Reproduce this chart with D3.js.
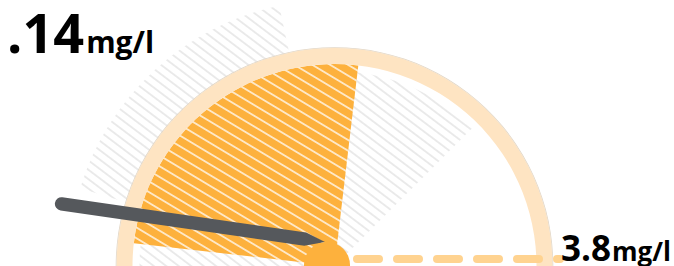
<!DOCTYPE html>
<html>
<head>
<meta charset="utf-8">
<script src="https://cdn.jsdelivr.net/npm/d3@7/dist/d3.min.js"></script>
<style>
  html, body { margin: 0; padding: 0; background: #fff; }
  svg { display: block; }
</style>
</head>
<body>
<svg id="chart" width="674" height="266"></svg>
<script>
// ---- data ----
const gaugeDomain = [0, 3.8];        // min / max of the gauge (mg/l)
const bandRange = [0, 2.0];          // highlighted orange band
const needleValue = [0.14];          // current reading
const unitLabel = ["mg/l"];
const maxLabel = [3.8];

// ---- layout ----
const W = 674, H = 266;
const cx = 334.5, cy = 266;          // gauge centre
const ringOuter = 218, ringInner = 202;
const hubX = 327, hubY = 265, hubR = 23;
const deg = Math.PI / 180;

const svg = d3.select("#chart");
const defs = svg.append("defs");

// stripe pattern inside the orange band
const pOrange = defs.append("pattern")
  .attr("id", "stripesOrange").attr("patternUnits", "userSpaceOnUse")
  .attr("width", 20).attr("height", 9.2)
  .attr("patternTransform", "rotate(31)");
pOrange.append("rect").attr("width", 20).attr("height", 9.2).attr("fill", "#FDB13D");
pOrange.append("line").attr("x1", 0).attr("x2", 20).attr("y1", 4.6).attr("y2", 4.6)
  .attr("stroke", "#FFF1DC").attr("stroke-width", 1.6);

// pale grey hatch
const pGrey = defs.append("pattern")
  .attr("id", "stripesGrey").attr("patternUnits", "userSpaceOnUse")
  .attr("width", 20).attr("height", 7.5)
  .attr("patternTransform", "rotate(37)");
pGrey.append("line").attr("x1", 0).attr("x2", 20).attr("y1", 3.7).attr("y2", 3.7)
  .attr("stroke", "#dcdcdc").attr("stroke-width", 1.8);
pGrey.append("line").attr("x1", 0).attr("x2", 20).attr("y1", 3.7).attr("y2", 3.7)
  .attr("stroke", "#ffffff").attr("stroke-width", 0.7);

// angle scale (d3 convention: 0 = up, clockwise, degrees)
const angle = d3.scaleLinear().domain(gaugeDomain).range([-83.5, 88]);

const g = svg.append("g").attr("transform", `translate(${cx},${cy})`);

// grey hatch "shadow"
const arc = d3.arc();
g.append("path")
  .attr("d", arc({innerRadius: 0, outerRadius: 195, startAngle: -92 * deg, endAngle: 45 * deg}))
  .attr("fill", "url(#stripesGrey)");
g.append("path")
  .attr("d", arc({innerRadius: 0, outerRadius: 266, startAngle: -73 * deg, endAngle: -12 * deg}))
  .attr("fill", "url(#stripesGrey)");

// orange band
g.append("path")
  .attr("d", arc({innerRadius: 0, outerRadius: ringInner,
                  startAngle: angle(bandRange[0]) * deg, endAngle: angle(bandRange[1]) * deg}))
  .attr("fill", "url(#stripesOrange)");

// dashed baseline from the hub to the max label
svg.append("line")
  .attr("x1", hubX).attr("x2", 560).attr("y1", 259).attr("y2", 259)
  .attr("stroke", "#FFD390").attr("stroke-width", 8)
  .attr("stroke-linecap", "round")
  .attr("stroke-dasharray", "22 18").attr("stroke-dashoffset", 10);

// outer ring
g.append("path")
  .attr("d", arc({innerRadius: ringInner, outerRadius: ringOuter,
                  startAngle: -100 * deg, endAngle: 100 * deg}))
  .attr("fill", "#FEE4C2");
g.append("path")
  .attr("d", d3.arc()({innerRadius: ringOuter, outerRadius: ringOuter + 0.8,
                  startAngle: -100 * deg, endAngle: 100 * deg}))
  .attr("fill", "#e3d6c4");

// needle
const a = angle(needleValue[0]) * deg;
const R = 280;
const tip = [cx + R * Math.sin(a), cy - R * Math.cos(a)];
const base = [hubX - 2, hubY - 23];
const dx = tip[0] - base[0], dy = tip[1] - base[1];
const len = Math.hypot(dx, dy);
const u = [dx / len, dy / len];
const n = [-u[1], u[0]];
const w = 6.6;
const mid = [base[0] + u[0] * 20, base[1] + u[1] * 20];
const needlePath = d3.path();
needlePath.moveTo(base[0], base[1]);
needlePath.lineTo(mid[0] + n[0] * w, mid[1] + n[1] * w);
needlePath.lineTo(tip[0] + n[0] * w, tip[1] + n[1] * w);
needlePath.arc(tip[0], tip[1], w, Math.atan2(n[1], n[0]), Math.atan2(-n[1], -n[0]), true);
needlePath.lineTo(mid[0] - n[0] * w, mid[1] - n[1] * w);
needlePath.closePath();
svg.append("path").attr("d", needlePath.toString()).attr("fill", "#55585C");

// hub
svg.append("circle").attr("cx", hubX).attr("cy", hubY).attr("r", hubR).attr("fill", "#FDB13D");

// labels
const fmt = v => d3.format(".2f")(v).replace(/^0/, "");
const t1 = svg.append("text").attr("x", 7).attr("y", 53)
  .attr("font-family", "'Open Sans', sans-serif").attr("font-weight", 700).attr("fill", "#000");
t1.append("tspan").attr("font-size", 54).text(fmt(needleValue[0]));
t1.append("tspan").attr("font-size", 30).attr("dx", 2).text(unitLabel[0]);

const t2 = svg.append("text").attr("x", 561).attr("y", 261)
  .attr("font-family", "'Open Sans', sans-serif").attr("font-weight", 700).attr("fill", "#000");
t2.append("tspan").attr("font-size", 35).text(d3.format(".1f")(maxLabel[0]));
t2.append("tspan").attr("font-size", 26).attr("dx", 1).text(unitLabel[0]);
</script>
</body>
</html>
